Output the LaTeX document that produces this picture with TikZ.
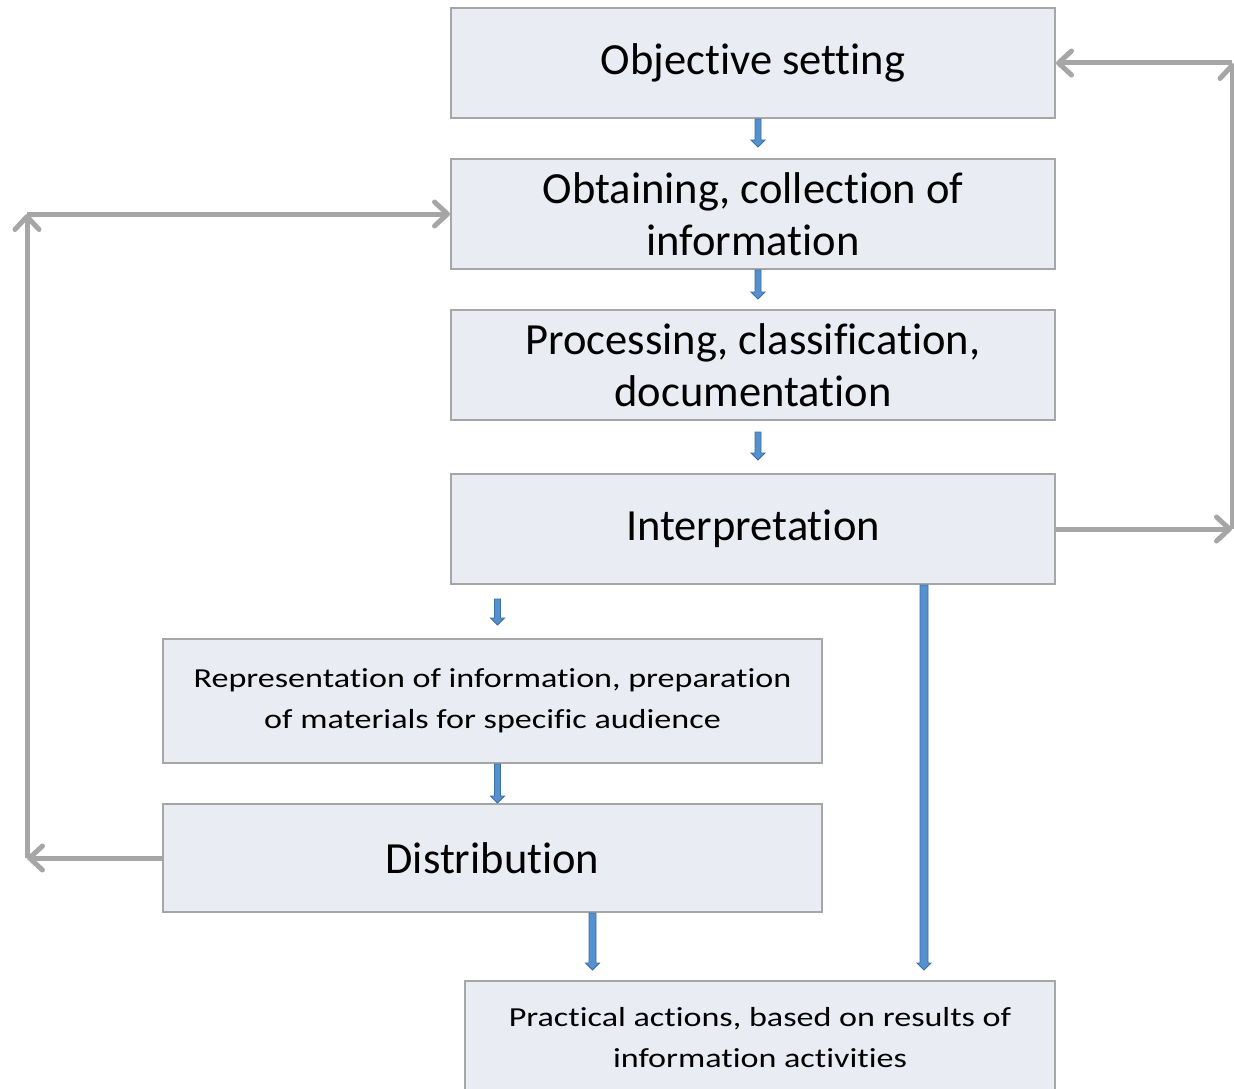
\documentclass[tikz,border=0pt]{standalone}
\usepackage{fontspec}
\setmainfont[Ligatures=NoCommon]{Carlito}
\newfontfamily\widefont[Ligatures=NoCommon,FakeStretch=1.24]{Carlito}
\usetikzlibrary{arrows.meta,calc}

\definecolor{boxfill}{HTML}{E9ECF2}
\definecolor{boxline}{HTML}{A6A6A6}
\definecolor{loopline}{HTML}{A6A6A6}
\definecolor{flowfill}{HTML}{5591CF}
\definecolor{flowline}{HTML}{3A6EA5}

\tikzset{
  stage/.style={draw=boxline, line width=2pt, fill=boxfill, inner sep=0pt,
    anchor=north west, align=center, text=black,
    font=\fontsize{44.5}{52}\selectfont},
  smallstage/.style={stage, font=\widefont\fontsize{27.5}{41}\selectfont},
  loop/.style={draw=loopline, line width=5pt,
    -{Straight Barb[length=13pt,width=24pt,round]}},
  blockarrow/.style={fill=flowfill, draw=flowline, line width=0.8pt, line join=miter},
}

% vertical block arrow: #1 half shaft width, #2 start, #3 tip
\newcommand\flowarrow[3][3pt]{%
  \draw[blockarrow] let \p1=(#2), \p2=(#3) in
    (\x1-#1,\y1) -- (\x1-#1,\y2+7pt) -- (\x1-7pt,\y2+7pt) -- (\x1,\y2)
    -- (\x1+7pt,\y2+7pt) -- (\x1+#1,\y2+7pt) -- (\x1+#1,\y1) -- cycle;}

\begin{document}
\begin{tikzpicture}[x=1pt,y=1pt]
  \useasboundingbox[fill=white] (0,0) rectangle (1234,-1089);

  % process stages
  \node[stage, minimum width=604pt, minimum height=110pt] (obj) at (450,-7) {Objective setting};
  \node[stage, minimum width=604pt, minimum height=110pt] (obt) at (450,-158) {Obtaining, collection of\\information};
  \node[stage, minimum width=604pt, minimum height=110pt] (proc) at (450,-309) {Processing, classification,\\documentation};
  \node[stage, minimum width=604pt, minimum height=110pt] (interp) at (450,-473) {Interpretation};
  \node[smallstage, minimum width=659pt, minimum height=124pt] (repr) at (162,-638) {Representation of information, preparation\\of materials for specific audience};
  \node[stage, minimum width=659pt, minimum height=108pt] (dist) at (162,-803) {Distribution};
  \node[smallstage, minimum width=590pt, minimum height=114pt] (prac) at (464,-980) {Practical actions, based on results of\\information activities};

  % forward flow
  \flowarrow{[xshift=5pt]obj.south}{[xshift=5pt,yshift=-28pt]obj.south}
  \flowarrow{[xshift=5pt]obt.south}{[xshift=5pt,yshift=-29pt]obt.south}
  \flowarrow{[xshift=5pt,yshift=-11pt]proc.south}{[xshift=5pt,yshift=13pt]interp.north}
  \flowarrow{[xshift=5pt,yshift=-14pt]interp.south -| repr.north}{[xshift=5pt,yshift=13pt]repr.north}
  \flowarrow{[xshift=5pt]repr.south}{[xshift=5pt]dist.north}
  \flowarrow[3.5pt]{[xshift=100pt]dist.south}{[xshift=100pt,yshift=-57pt]dist.south}
  \flowarrow[4pt]{[xshift=171pt]interp.south}{[xshift=171pt,yshift=-385pt]interp.south}

  % feedback loops
  \coordinate (rb) at ([xshift=176pt]interp.east);
  \coordinate (rt) at (rb |- obj.east);
  \draw[loop] (interp.east) -- (rb);
  \draw[loop] (rb) -- (rt);
  \draw[loop] (rt) -- (obj.east);

  \coordinate (lb) at ([xshift=-135pt]dist.west);
  \coordinate (lt) at (lb |- obt.west);
  \draw[loop] (dist.west) -- (lb);
  \draw[loop] (lb) -- (lt);
  \draw[loop] (lt) -- (obt.west);
\end{tikzpicture}
\end{document}
